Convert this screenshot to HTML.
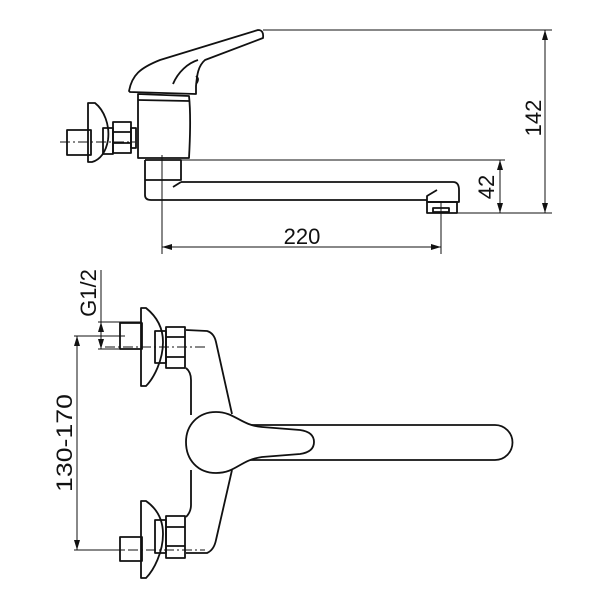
<!DOCTYPE html>
<html><head><style>body{margin:0;background:#fff}svg{display:block}text{font-family:"Liberation Sans",Arial,sans-serif;font-size:22px;fill:#111}</style></head>
<body>
<svg width="600" height="600" viewBox="0 0 600 600" xmlns="http://www.w3.org/2000/svg">
<defs><marker id="a" viewBox="0 0 10 6" refX="10" refY="3" markerWidth="10" markerHeight="6" orient="auto-start-reverse" markerUnits="userSpaceOnUse"><path d="M0,0 L10,3 L0,6 z" fill="#111"/></marker></defs>
<g fill="none" stroke="#111" stroke-width="1.8" stroke-linejoin="round">
<path d="M129,91 C132,75 140,68 160,60 L258,30 Q264,30 263,38 L205,60 C198,66 197,75 196,86 L196,94 L130,92 Z" fill="#fff"/>
<path d="M173,84 C178,72 188,63 198,60"/>
<path d="M196,76 q4,3 0,8"/>
<path d="M138,94 L189,96 C191,115 190,140 189,158 L138,158 Z" fill="#fff"/>
<line x1="138" y1="100" x2="189" y2="101"/>
<path d="M145,160 L181,160 L181,180 L145,180"/>
<path d="M145,160 L145,195 Q145,200 151,200 L427,200"/>
<path d="M181,182 L453,182 Q459,182 459,190 L459,202 L427,202 L427,196 L437,190"/>
<path d="M173,187 L181,182"/>
<rect x="427" y="202" width="30" height="11"/>
<rect x="433" y="208" width="16" height="4"/>
<path d="M88,103 L95,103 C104,110 110,125 108,140 C106,152 100,160 92,162 L88,162 Z" fill="#fff"/>
<rect x="67" y="130" width="24" height="25"/>
<rect x="103" y="128" width="10" height="26"/>
<rect x="113" y="122" width="18" height="31"/>
<line x1="113" y1="132" x2="131" y2="132"/><line x1="113" y1="143" x2="131" y2="143"/>
<rect x="131" y="128" width="5" height="20"/>
</g>
<g stroke="#111" stroke-width="1" fill="none">
<line x1="60" y1="142" x2="135" y2="142" stroke-dasharray="10,3,2,3"/>
<line x1="263" y1="30" x2="552" y2="30"/>
<line x1="181" y1="160" x2="505" y2="160"/>
<line x1="457" y1="213" x2="552" y2="213"/>
<line x1="545" y1="30" x2="545" y2="213" marker-start="url(#a)" marker-end="url(#a)"/>
<line x1="500" y1="160" x2="500" y2="213" marker-start="url(#a)" marker-end="url(#a)"/>
<line x1="162" y1="155" x2="162" y2="254"/>
<line x1="441" y1="201" x2="441" y2="254"/>
<line x1="162" y1="247" x2="441" y2="247" marker-start="url(#a)" marker-end="url(#a)"/>
</g>
<text x="302" y="244" text-anchor="middle">220</text>
<text transform="translate(494,187) rotate(-90)" text-anchor="middle">42</text>
<text transform="translate(541,118) rotate(-90)" text-anchor="middle">142</text>

<g fill="none" stroke="#111" stroke-width="1.8" stroke-linejoin="round">
<path d="M141,308 L146,308 C156,316 163,327 163,342 C163,360 154,378 146,386 L141,386 Z" fill="#fff"/>
<rect x="120" y="323" width="22" height="26"/>
<rect x="155" y="331" width="11" height="32"/>
<rect x="166" y="327" width="19" height="41"/>
<line x1="166" y1="337" x2="185" y2="337"/><line x1="166" y1="357" x2="185" y2="357"/>
<path d="M186,330 L207,331 Q214,333 216,342 L232,414"/>
<path d="M186,368 Q191,372 191,380 L191,415"/>
<path d="M141,501 L146,501 C156,508 163,518 163,534 C163,552 154,570 146,578 L141,578 Z" fill="#fff"/>
<rect x="120" y="537" width="22" height="24"/>
<rect x="155" y="520" width="11" height="33"/>
<rect x="166" y="516" width="19" height="42"/>
<line x1="166" y1="527" x2="185" y2="527"/><line x1="166" y1="546" x2="185" y2="546"/>
<path d="M186,553 L207,553 Q214,550 216,540 L232,470"/>
<path d="M186,517 Q191,512 191,505 L191,470"/>
<path d="M246,425 L495,425 A17.5,17.5 0 0 1 495,460 L246,460"/>
<path d="M216,412 C235,412 240,425 262,427 L300,430 Q314,432 314,442 Q314,452 300,454 L262,457 C240,460 236,473 216,473 C198,473 186,460 186,442 C186,425 198,412 216,412 Z" fill="#fff"/>
</g>
<g stroke="#111" stroke-width="1" fill="none">
<line x1="105" y1="347" x2="205" y2="347" stroke-dasharray="10,3,2,3"/>
<line x1="110" y1="550" x2="205" y2="550" stroke-dasharray="10,3,2,3"/>
<line x1="98" y1="322" x2="142" y2="322"/>
<line x1="98" y1="349" x2="142" y2="349"/>
<line x1="101" y1="270" x2="101" y2="322"/>
<line x1="101" y1="322" x2="101" y2="349" marker-start="url(#a)" marker-end="url(#a)"/>
<line x1="74" y1="336" x2="125" y2="336"/>
<line x1="74" y1="550" x2="125" y2="550"/>
<line x1="77" y1="336" x2="77" y2="550" marker-start="url(#a)" marker-end="url(#a)"/>
</g>
<text transform="translate(96,293) rotate(-90)" text-anchor="middle">G1/2</text>
<text transform="translate(72,443) rotate(-90)" text-anchor="middle" textLength="98" lengthAdjust="spacingAndGlyphs">130-170</text>
</svg>
</body></html>
